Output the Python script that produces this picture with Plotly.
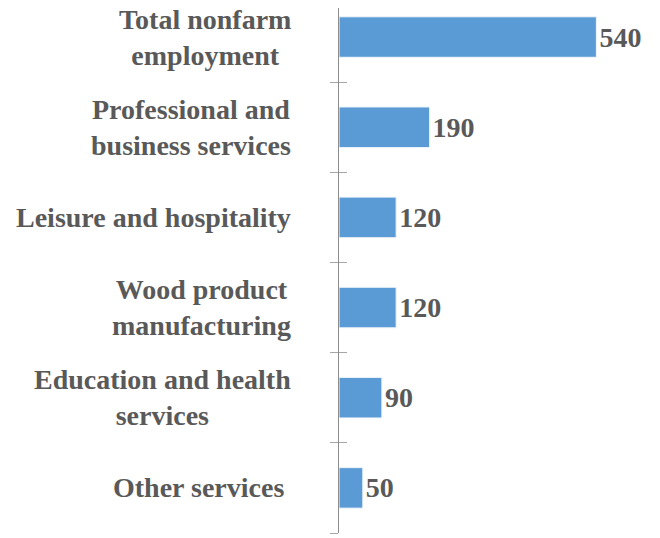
import plotly.graph_objects as go

categories = ["Other services&nbsp;", "Education and health<br>services", "Wood product<br>manufacturing",
              "Leisure and hospitality", "Professional and<br>business services", "Total nonfarm<br>employment"]
values = [50, 90, 120, 120, 190, 540]
keys = ["c0", "c1", "c2", "c3", "c4", "c5"]

FONT = "Liberation Serif"
TXT = "#595959"
FS = 28

fig = go.Figure()
fig.add_trace(go.Bar(
    x=values, y=keys, orientation="h",
    marker=dict(color="#5B9BD5", line=dict(color="white", width=0.8)),
    text=["<b>%d</b>" % v for v in values], textposition="outside", cliponaxis=False,
    textfont=dict(family=FONT, size=FS, color=TXT),
    hoverinfo="skip",
))
fig.add_trace(go.Bar(
    x=values, y=keys, orientation="h", yaxis="y2",
    marker=dict(color="rgba(0,0,0,0)"), hoverinfo="skip", showlegend=False,
))

for k, c in zip(keys, categories):
    fig.add_annotation(
        x=0, xref="paper", y=k, yref="y", text="<b>" + c + "</b>",
        xanchor="right", yanchor="middle", align="center", xshift=-46,
        showarrow=False, font=dict(family=FONT, size=FS, color=TXT),
    )

fig.update_layout(
    width=652, height=530,
    margin=dict(l=331, r=35, t=0, b=5, autoexpand=False),
    plot_bgcolor="white", paper_bgcolor="white",
    bargap=0.55, barmode="overlay", showlegend=False,
    font=dict(family=FONT, size=FS, color=TXT),
    xaxis=dict(range=[0, 600], visible=False, fixedrange=True, automargin=False),
    yaxis=dict(
        range=[-0.5, 5.322], showticklabels=False, tickson="boundaries", automargin=False,
        ticks="outside", ticklen=8, tickcolor="#A6A6A6", tickwidth=1,
        showline=True, linecolor="#8C8C8C", linewidth=1, showgrid=False, zeroline=False,
    ),
    yaxis2=dict(
        overlaying="y", matches="y", side="left", anchor="x", showticklabels=False,
        tickson="boundaries", ticks="inside", ticklen=8, tickcolor="#A6A6A6", tickwidth=1,
        automargin=False, showline=False, showgrid=False, zeroline=False,
    ),
)
fig.write_html("out.html")
